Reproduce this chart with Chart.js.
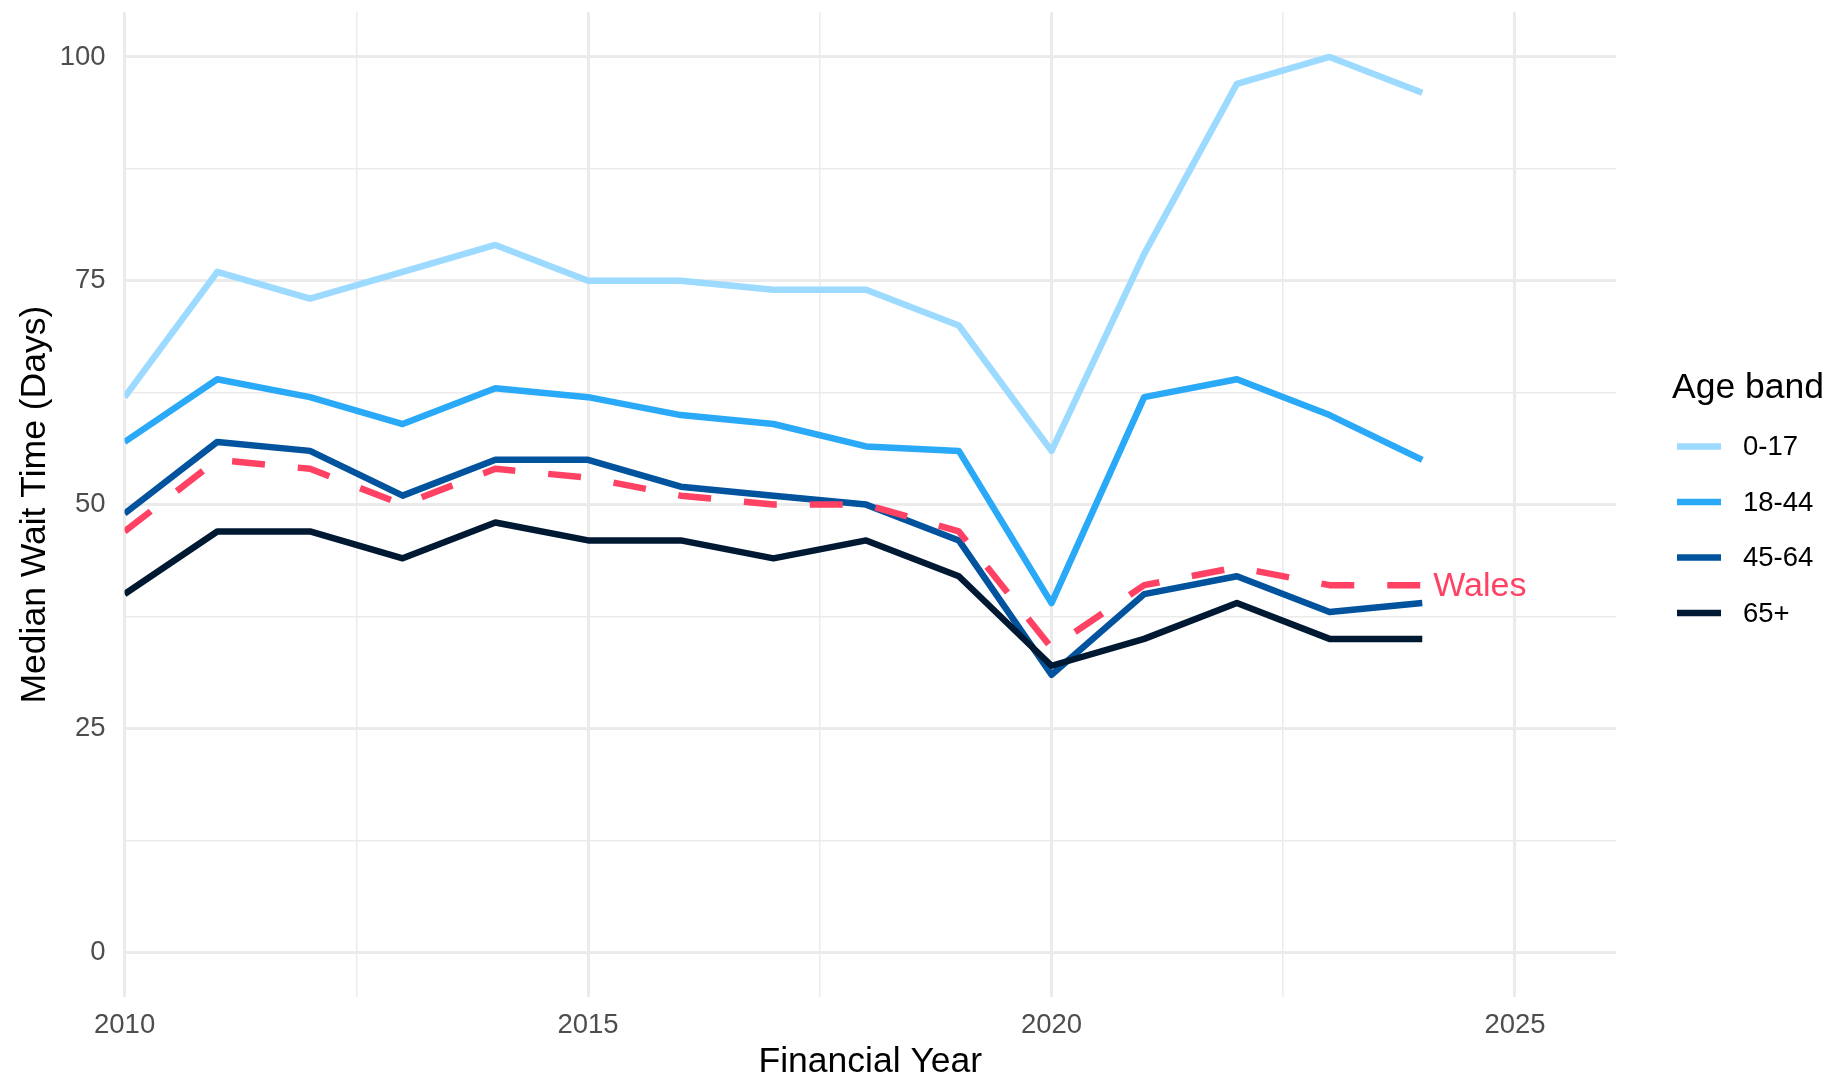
<!DOCTYPE html>
<html>
<head>
<meta charset="utf-8">
<title>Median Wait Time by Age band</title>
<script src="https://cdn.jsdelivr.net/npm/chart.js@4.4.1/dist/chart.umd.min.js"></script>
<style>
  html, body { margin: 0; padding: 0; background: #fff; }
  #chart { display: block; }
</style>
</head>
<body>
<canvas id="chart" width="1826" height="1077"></canvas>
<script>
// financial years and median waits (days)
const years    = [2010, 2011, 2012, 2013, 2014, 2015, 2016, 2017, 2018, 2019, 2020, 2021, 2022, 2023, 2024];
const age0_17  = [62, 76, 73, 76, 79, 75, 75, 74, 74, 70, 56, 78, 97, 100, 96];
const age18_44 = [57, 64, 62, 59, 63, 62, 60, 59, 56.5, 56, 39, 62, 64, 60, 55];
const age45_64 = [49, 57, 56, 51, 55, 55, 52, 51, 50, 46, 31, 40, 42, 38, 39];
const age65    = [40, 47, 47, 44, 48, 46, 46, 44, 46, 42, 32, 35, 39, 35, 35];
const wales    = [47, 55, 54, 50, 54, 53, 51, 50, 50, 47, 34, 41, 43, 41, 41];

const bandNames = ["0-17", "18-44", "45-64", "65+"];
const yTicks = [0, 12.5, 25, 37.5, 50, 62.5, 75, 87.5, 100];
const xTicks = [2010, 2012.5, 2015, 2017.5, 2020, 2022.5, 2025];

// colours
const COL_0_17  = "#9ddaff";
const COL_18_44 = "#2aa9f8";
const COL_45_64 = "#02539d";
const COL_65    = "#001933";
const COL_WALES = "#ff4264";
const COL_GRID  = "#ebebeb";

const FONT = '"Liberation Sans", Arial, sans-serif';
const TITLE_SIZE = 35.5;
const TEXT_SIZE = 27.5;

function pts(vals) {
  return years.map((y, i) => ({ x: y, y: vals[i] }));
}

function lineSet(label, vals, color, order, dash) {
  return {
    label: label,
    data: pts(vals),
    borderColor: color,
    backgroundColor: color,
    borderWidth: 6.5,
    borderDash: dash || [],
    borderJoinStyle: "round",
    borderCapStyle: "butt",
    pointRadius: 0,
    tension: 0,
    fill: false,
    order: order
  };
}

// no extra room for edge labels, the plot box is fixed
function noPad(s) {
  s.paddingTop = 0;
  s.paddingBottom = 0;
  s.paddingLeft = 0;
  s.paddingRight = 0;
}

// legend on the right + Wales label at end of dashed line
const extrasPlugin = {
  id: "extras",
  afterDraw(chart) {
    const ctx = chart.ctx;
    const xs = chart.scales.x, ys = chart.scales.y;
    ctx.save();

    // Wales label
    const last = years.length - 1;
    ctx.fillStyle = COL_WALES;
    ctx.font = "34px " + FONT;
    ctx.textAlign = "left";
    ctx.textBaseline = "middle";
    ctx.fillText("Wales", xs.getPixelForValue(years[last]) + 11, ys.getPixelForValue(wales[last]) + 1);

    // legend
    ctx.fillStyle = "#000";
    ctx.font = TITLE_SIZE + "px " + FONT;
    ctx.fillText("Age band", 1672, 388);

    const cols = [COL_0_17, COL_18_44, COL_45_64, COL_65];
    ctx.font = TEXT_SIZE + "px " + FONT;
    bandNames.forEach((name, i) => {
      const y = 446.5 + i * 55.5;
      ctx.strokeStyle = cols[i];
      ctx.lineWidth = 6.5;
      ctx.lineCap = "butt";
      ctx.beginPath();
      ctx.moveTo(1677, y);
      ctx.lineTo(1721, y);
      ctx.stroke();
      ctx.fillStyle = "#000";
      ctx.fillText(name, 1743, y + 1);
    });
    ctx.restore();
  }
};

new Chart(document.getElementById("chart").getContext("2d"), {
  type: "line",
  data: {
    datasets: [
      lineSet("Wales", wales, COL_WALES, 0, [33, 33]),
      lineSet("65+", age65, COL_65, 1),
      lineSet("45-64", age45_64, COL_45_64, 2),
      lineSet("18-44", age18_44, COL_18_44, 3),
      lineSet("0-17", age0_17, COL_0_17, 4)
    ]
  },
  options: {
    responsive: false,
    animation: false,
    layout: { padding: { left: 0, top: 12.2, right: 210, bottom: 0 } },
    plugins: {
      legend: { display: false },
      tooltip: { enabled: false }
    },
    scales: {
      x: {
        type: "linear",
        min: 2010,
        max: 2026.09,
        afterBuildTicks: (s) => { s.ticks = xTicks.map(v => ({ value: v })); },
        afterFit: (s) => { s.height = 80; noPad(s); },
        border: { display: false },
        grid: {
          color: COL_GRID,
          drawTicks: false,
          lineWidth: (c) => (c.tick && c.tick.value % 5 === 0 ? 3 : 1.5)
        },
        ticks: {
          color: "#4d4d4d",
          padding: 11.5,
          maxRotation: 0,
          font: { family: FONT, size: TEXT_SIZE },
          callback: (v) => (v % 5 === 0 ? String(v) : "")
        },
        title: {
          display: true,
          text: "Financial Year",
          color: "#000",
          padding: { top: 0, bottom: -2.75 },
          font: { family: FONT, size: TITLE_SIZE, lineHeight: 1 }
        }
      },
      y: {
        type: "linear",
        min: -5,
        max: 105,
        afterBuildTicks: (s) => { s.ticks = yTicks.map(v => ({ value: v })); },
        afterFit: (s) => { s.width = 124.6; noPad(s); },
        border: { display: false },
        grid: {
          color: COL_GRID,
          drawTicks: false,
          lineWidth: (c) => (c.tick && c.tick.value % 25 === 0 ? 3 : 1.5)
        },
        ticks: {
          color: "#4d4d4d",
          padding: 19,
          font: { family: FONT, size: TEXT_SIZE },
          callback: (v) => (v % 25 === 0 ? String(v) : "")
        },
        title: {
          display: true,
          text: "Median Wait Time (Days)",
          color: "#000",
          padding: { top: 17.25, bottom: 0 },
          font: { family: FONT, size: TITLE_SIZE, lineHeight: 1 }
        }
      }
    }
  },
  plugins: [extrasPlugin]
});
</script>
</body>
</html>
